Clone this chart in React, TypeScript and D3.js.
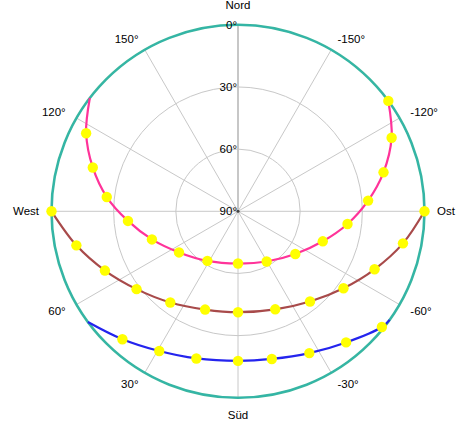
import React from "react";
import * as d3 from "d3";

// Direction labels (azimuth: Süd = 0, West = +90, Nord = 180, Ost = -90)
const angleTicks = [180, 150, 120, 90, 60, 30, 0, -30, -60, -90, -120, -150];
const angleLabels = ["Nord", "150°", "120°", "West", "60°", "30°", "Süd", "-30°", "-60°", "Ost", "-120°", "-150°"];
const elevTicks = [0, 30, 60, 90];
const elevLabels = ["0°", "30°", "60°", "90°"];

// Summer (pink)
const pinkAz = [-126.3, -115.6, -105.0, -94.7, -83.4, -70.5, -53.3, -29.7, 0, 31.7, 55.1, 71.9, 85.0, 96.2, 106.8, 117.2, 127.4];
const pinkEl = [0, 7.8, 17.3, 27.0, 36.8, 46.6, 55.5, 62.1, 64.8, 61.9, 55.3, 46.3, 36.7, 26.3, 16.8, 7.6, 0];
const pinkDot = [1, 1, 1, 1, 1, 1, 1, 1, 1, 1, 1, 1, 1, 1, 1, 1, 0];

// Equinox (brown)
const brownAz = [-90, -79.0, -67.0, -53.9, -38.6, -20.8, 0, 18.5, 36.6, 52.5, 66.0, 78.1, 90];
const brownEl = [0, 8.9, 18.4, 27.0, 34.3, 39.4, 41.3, 40.0, 35.2, 28.3, 19.7, 10.3, 0];
const brownDot = [1, 1, 1, 1, 1, 1, 1, 1, 1, 1, 1, 1, 1];

// Winter (blue)
const blueAz = [-54.4, -51.2, -39.5, -26.7, -12.9, 0, 15.8, 29.4, 42.1, 53.6];
const blueEl = [0, 0.9, 8.0, 13.4, 16.9, 17.8, 16.2, 12.6, 6.8, 0];
const blueDot = [0, 1, 1, 1, 1, 1, 1, 1, 1, 0];

const W = 474;
const H = 429;
const cx = 238;
const cy = 211.3;
const R = 186.5;

const rScale = d3.scaleLinear().domain([90, 0]).range([0, R]);
const toTheta = (az: number) => ((180 + az) * Math.PI) / 180;

type Pt = { az: number; el: number; dot: number };
const series = [
  { color: "#ff3399", az: pinkAz, el: pinkEl, dot: pinkDot },
  { color: "#a84a4a", az: brownAz, el: brownEl, dot: brownDot },
  { color: "#2424ee", az: blueAz, el: blueEl, dot: blueDot },
].map((s) => ({
  color: s.color,
  pts: s.az.map((a, i) => ({ az: a, el: s.el[i], dot: s.dot[i] })) as Pt[],
}));

const line = d3
  .lineRadial<Pt>()
  .angle((d) => toTheta(d.az))
  .radius((d) => rScale(d.el))
  .curve(d3.curveCatmullRom);

const font = "'Liberation Sans', Arial, sans-serif";

export default function App() {
  const labelR = R + 12.5;
  return (
    <div style={{ position: "fixed", left: 0, top: 0 }}>
      <svg width={W} height={H} style={{ display: "block", background: "#fff" }}>
        <g transform={`translate(${cx},${cy})`}>
          {/* spokes */}
          {angleTicks.map((a) => {
            const t = toTheta(a);
            return (
              <line
                key={"s" + a}
                x1={0}
                y1={0}
                x2={R * Math.sin(t)}
                y2={-R * Math.cos(t)}
                stroke={a === 180 ? "#8f8f8f" : "#c8c8c8"}
                strokeWidth={1}
              />
            );
          })}
          {/* grid circles */}
          {[30, 60].map((e) => (
            <circle key={"c" + e} r={rScale(e)} fill="none" stroke="#c8c8c8" strokeWidth={1} />
          ))}
          {/* outer horizon */}
          <circle r={R} fill="none" stroke="#3cb89c" strokeWidth={2.6} />
          <circle r={R} fill="none" stroke="#2fb3b0" strokeWidth={1} />
          <circle r={1.5} fill="#444" />
          {/* elevation labels */}
          {elevTicks.map((e, i) => (
            <text
              key={"e" + e}
              x={-1}
              y={-rScale(e)}
              textAnchor="end"
              dominantBaseline="central"
              fontFamily={font}
              fontSize={11.5}
              fill="#000"
            >
              {elevLabels[i]}
            </text>
          ))}
          {/* direction labels */}
          {angleTicks.map((a, i) => {
            const t = toTheta(a);
            const x = labelR * Math.sin(t);
            const y = -labelR * Math.cos(t);
            let anchor: "start" | "middle" | "end" = "middle";
            let baseline = "central";
            let dy = 0;
            if (a === 180) {
              baseline = "auto";
              dy = -3;
            } else if (a === 0) {
              baseline = "hanging";
              dy = 1;
            } else if (a > 0) anchor = "end";
            else anchor = "start";
            return (
              <text
                key={"a" + a}
                x={x}
                y={y + dy}
                textAnchor={anchor}
                dominantBaseline={baseline}
                fontFamily={font}
                fontSize={11.5}
                fill="#000"
              >
                {angleLabels[i]}
              </text>
            );
          })}
          {/* series lines */}
          {series.map((s, i) => (
            <path key={"l" + i} d={line(s.pts) || ""} fill="none" stroke={s.color} strokeWidth={2.2} />
          ))}
          {/* hourly dots */}
          {series.map((s, i) =>
            s.pts
              .filter((p) => p.dot)
              .map((p, j) => {
                const t = toTheta(p.az);
                const r = rScale(p.el);
                return (
                  <circle
                    key={"d" + i + "-" + j}
                    cx={r * Math.sin(t)}
                    cy={-r * Math.cos(t)}
                    r={5.2}
                    fill="#ffff00"
                  />
                );
              })
          )}
        </g>
      </svg>
    </div>
  );
}
